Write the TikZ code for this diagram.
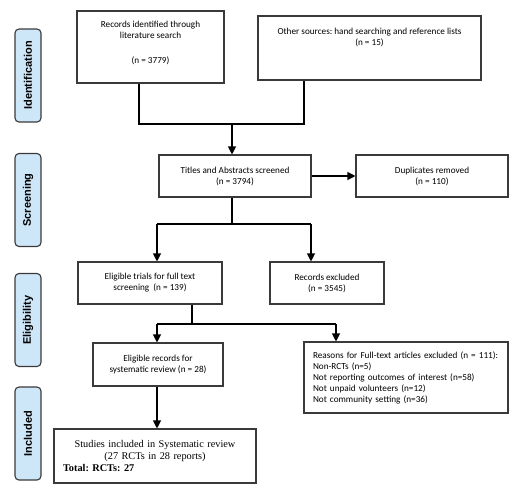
\documentclass[tikz,border=0pt]{standalone}
\usepackage{fontspec}
\setmainfont{Carlito}
\newfontfamily\sidefont{Liberation Sans}
\newfontfamily\timesfont{Liberation Serif}
\usetikzlibrary{arrows.meta}
\definecolor{sideblue}{HTML}{CDE6F8}
\definecolor{boxline}{HTML}{3A3A3A}
\frenchspacing
\begin{document}
\begin{tikzpicture}[x=1pt,y=-1pt,
  box/.style={draw=boxline, line width=1.1pt, inner sep=0pt, align=center, font=\fontsize{9.2}{11}\selectfont},
  txt/.style={inner sep=0pt, align=center, font=\fontsize{9.2}{11}\selectfont},
  side/.style={draw=boxline, fill=sideblue, rounded corners=4pt, line width=1.1pt, minimum width=93pt, minimum height=26pt, rotate=90, inner sep=0pt, font=\sidefont\bfseries\fontsize{11}{13}\selectfont},
  arr/.style={-{Triangle[length=8pt,width=8pt]}, line width=1.1pt},
  conn/.style={line width=1.1pt}]
\useasboundingbox (0,0) rectangle (521,493);
% phase labels
\node[side] (sid) at (28,75.5) {Identification};
\node[side] (sscr) at (28,200) {Screening};
\node[side] (selig) at (28,320) {Eligibility};
\node[side] (sinc) at (28,433.5) {Included};
% boxes
\node[box, minimum width=147pt, minimum height=72pt] (rec) at (150.5,47) {};
\node[txt] (rect) at (150.5,43.3) {Records identified through\\literature search\\[14pt](n = 3779)};
\node[box, minimum width=223pt, minimum height=64pt] (oth) at (369.5,48) {};
\node[txt] (otht) at (369.5,37.5) {Other sources: hand searching and reference lists\\(n = 15)};
\node[box, minimum width=152pt, minimum height=42pt] (tit) at (235,176) {Titles and Abstracts screened\\(n = 3794)};
\node[box, minimum width=152pt, minimum height=42pt] (dup) at (432,176) {Duplicates removed\\(n = 110)};
\node[box, minimum width=144pt, minimum height=42pt] (elt) at (150,283) {Eligible trials for full text\\screening\ \ (n = 139)};
\node[box, minimum width=114pt, minimum height=42pt] (rex) at (327,283) {Records excluded\\(n = 3545)};
\node[box, minimum width=130pt, minimum height=43pt] (ers) at (158,364.5) {Eligible records for\\systematic review (n = 28)};
\node[box, minimum height=71pt, text width=186pt, inner xsep=9pt, align=left] (rea) at (406,377.5) {Reasons for Full-text articles excluded (n = 111):\\Non-RCTs (n=5)\\Not reporting outcomes of interest (n=58)\\Not unpaid volunteers (n=12)\\Not community setting (n=36)};
\node[box, minimum height=54pt, text width=184pt, inner xsep=9pt, font=\timesfont\fontsize{10.3}{12}\selectfont] (inc) at (155,456) {Studies included in Systematic review\\(27 RCTs in 28 reports)\\\makebox[184pt][l]{\bfseries Total: RCTs: 27}};
% junction coordinates
\coordinate (jl) at (139,124);
\coordinate (jm) at (232,124);
\coordinate (jr) at (304,124);
\coordinate (k0) at (232,224);
\coordinate (kl) at (157,224);
\coordinate (kr) at (311,224);
\coordinate (m0) at (192,324);
\coordinate (ml) at (157,324);
\coordinate (mr) at (336,324);
\coordinate (nl) at (157,386);
% connectors
\draw[conn] (rec.south -| jl) -- (jl) -- (jr) -- (oth.south -| jr);
\draw[arr] (jm) -- (tit.north -| jm);
\draw[arr] (tit.east) -- (dup.west);
\draw[conn] (tit.south -| k0) -- (k0);
\draw[conn] (kl) -- (kr);
\draw[arr] (kl) -- (elt.north -| kl);
\draw[arr] (kr) -- (rex.north -| kr);
\draw[conn] (elt.south -| m0) -- (m0);
\draw[conn] (ml) -- (mr);
\draw[arr] (ml) -- (ers.north -| ml);
\draw[arr] (mr) -- (rea.north -| mr);
\draw[arr] (ers.south -| nl) -- (inc.north -| nl);
\end{tikzpicture}
\end{document}
